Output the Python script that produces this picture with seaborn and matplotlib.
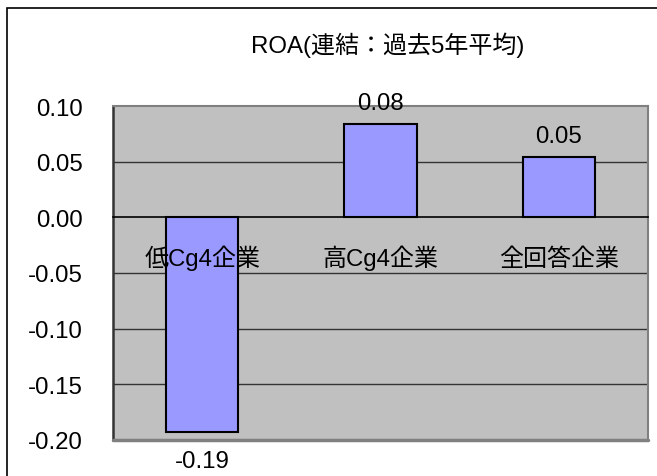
import matplotlib
matplotlib.use("Agg")
import matplotlib.pyplot as plt
import seaborn as sns
from matplotlib.patches import Rectangle

# chart data
CATEGORIES = ["低Cg4企業", "高Cg4企業", "全回答企業"]
ROA = [-0.193, 0.084, 0.054]
Y_TICKS = [0.10, 0.05, 0.00, -0.05, -0.10, -0.15, -0.20]
TITLE = "ROA(連結：過去5年平均)"

FONT = ["Liberation Sans", "Noto Sans CJK JP"]
FS = 17.3
W, H = 657, 477


def main():
    sns.set_style("white")
    plt.rcParams["font.family"] = FONT
    plt.rcParams["text.color"] = "black"
    plt.rcParams["xtick.labelcolor"] = "black"
    plt.rcParams["ytick.labelcolor"] = "black"

    fig = plt.figure(figsize=(W / 100, H / 100), dpi=100)
    ax = fig.add_axes([113 / W, 1 - 441 / H, (648 - 113) / W, (441 - 107) / H])
    ax.set_facecolor("#C0C0C0")

    sns.barplot(x=CATEGORIES, y=ROA, color="#9999FF", saturation=1, width=0.405,
                edgecolor="black", linewidth=1.5, ax=ax, zorder=2)

    ax.set_xlim(-0.5, 2.5)
    ax.set_ylim(Y_TICKS[-1], Y_TICKS[0])

    # interior gridlines only; top/bottom are the plot border
    for t in Y_TICKS[1:-1]:
        if t != 0:
            ax.axhline(t, color="#333333", lw=1, zorder=1)

    # spines
    ax.spines["left"].set_color("#333333")
    ax.spines["left"].set_linewidth(1.8)
    for s in ("top", "right"):
        ax.spines[s].set_color("#808080")
        ax.spines[s].set_linewidth(1.5)
    ax.spines["bottom"].set_position(("data", 0))
    ax.spines["bottom"].set_color("black")
    ax.spines["bottom"].set_linewidth(1.2)
    ax.spines["bottom"].set_zorder(4)
    ax.axhline(Y_TICKS[-1], color="#808080", lw=2.5, clip_on=False, zorder=3)

    # y axis
    ax.set_yticks(Y_TICKS)
    ax.set_yticklabels([f"{v:.2f}" for v in Y_TICKS], fontsize=FS, color="black")
    ax.tick_params(axis="y", direction="in", length=6, width=1.2, color="#333333", pad=22)

    # x axis: labels under zero line (drawn over the bars), ticks at category boundaries
    ax.set_xticks(range(len(CATEGORIES)))
    ax.set_xticklabels(CATEGORIES, fontsize=FS, color="black", va="baseline")
    ax.set_xticks([-0.5, 0.5, 1.5, 2.5], minor=True)
    ax.tick_params(axis="x", which="major", length=0, pad=34)
    ax.tick_params(axis="x", which="minor", direction="in", length=6, width=1, color="#333333")
    ax.xaxis.set_zorder(5)
    ax.set_xlabel("")
    ax.set_ylabel("")

    bars = ax.containers[0]
    ax.bar_label(bars, labels=[f"{v:.2f}" if v >= 0 else "" for v in ROA], padding=7,
                 fontsize=FS, color="black")
    ax.bar_label(bars, labels=[f"{v:.2f}" if v < 0 else "" for v in ROA], padding=13,
                 fontsize=FS, color="black")

    fig.text(388 / W, 1 - 45 / H, TITLE, ha="center", va="center", fontsize=FS, color="black")

    # outer chart frame (cropped at right/bottom in the source)
    fig.patches.append(Rectangle((7 / W, -0.05), 1.0, 1 - 9 / H + 0.05,
                                 transform=fig.transFigure, fill=False,
                                 ec="black", lw=1.2))

    fig.savefig("out.png", dpi=100)
    plt.close(fig)


if __name__ == "__main__":
    main()
